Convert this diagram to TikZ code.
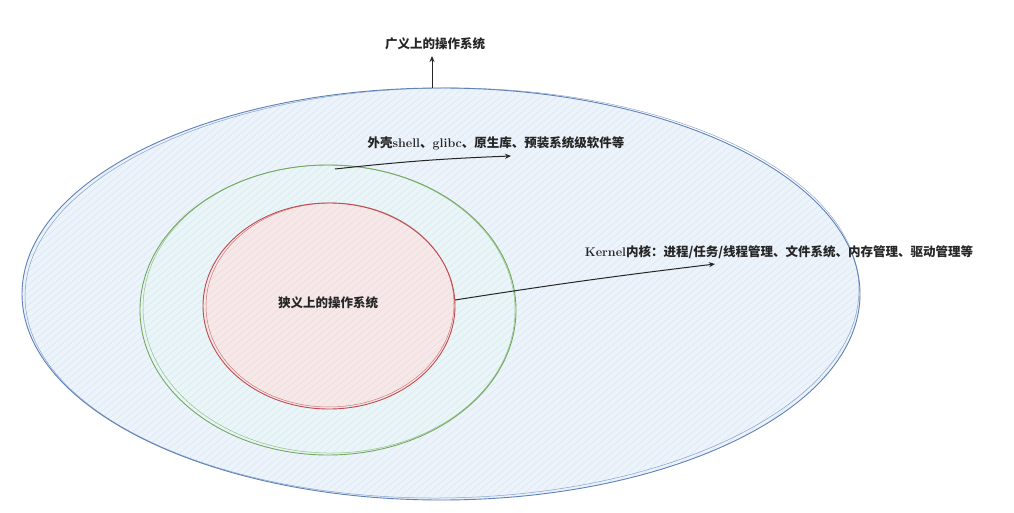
\documentclass[tikz,border=0pt]{standalone}
\usepackage{fontspec}
\newfontfamily\cjk{Noto Sans CJK SC}
\usetikzlibrary{arrows.meta}
\definecolor{bigline}{RGB}{95,130,185}
\definecolor{bigfill}{RGB}{236,243,250}
\definecolor{ringfill}{RGB}{234,245,247}
\definecolor{greenline}{RGB}{115,170,95}
\definecolor{redline}{RGB}{190,75,80}
\definecolor{redfill}{RGB}{246,232,232}
\definecolor{hatchblue}{RGB}{200,218,238}
\definecolor{hatchred}{RGB}{232,205,205}
\tikzset{
  lbl/.style={font=\fontsize{12.5}{14}\selectfont\bfseries, text=black!85, inner sep=1pt},
  arr/.style={draw=black!85, line width=1pt, -{Stealth[length=6pt,width=5pt]}},
}
\begin{document}
\begin{tikzpicture}[x=1pt,y=-1pt]
\useasboundingbox (0,0) rectangle (1014,513);
\fill[white] (0,0) rectangle (1014,513);
% big ellipse
\fill[bigfill] (441,294) ellipse [x radius=419pt, y radius=206pt];
\fill[ringfill] (328,310) ellipse [x radius=188pt, y radius=145pt];
\begin{scope}
  \clip (441,294) ellipse [x radius=419pt, y radius=206pt];
  \foreach \i in {-700,-692,...,1000}{
    \draw[hatchblue, line width=0.4pt, opacity=0.6] (\i,520) -- (\i+620,0);
  }
\end{scope}
\draw[bigline, line width=0.9pt] (441,294) ellipse [x radius=419pt, y radius=206pt];
\draw[bigline, line width=0.5pt, opacity=0.7, rotate around={0.6:(441,294)}] (442,293) ellipse [x radius=417pt, y radius=205pt];
% green circle
\draw[greenline, line width=0.9pt] (328,310) ellipse [x radius=188pt, y radius=145pt];
\draw[greenline, line width=0.5pt, opacity=0.7, rotate around={-1:(328,310)}] (329,309) ellipse [x radius=186pt, y radius=144pt];
% red ellipse
\fill[redfill] (329,306) ellipse [x radius=126pt, y radius=103pt];
\begin{scope}
  \clip (329,306) ellipse [x radius=126pt, y radius=103pt];
  \foreach \i in {-400,-392,...,700}{
    \draw[hatchred, line width=0.4pt, opacity=0.6] (\i,420) -- (\i+280,190);
  }
\end{scope}
\draw[redline, line width=0.9pt] (329,306) ellipse [x radius=126pt, y radius=103pt];
\draw[redline, line width=0.5pt, opacity=0.7, rotate around={1.5:(329,306)}] (330,305) ellipse [x radius=124pt, y radius=102pt];
% labels
\node[lbl] (broad) at (435,44) {\cjk 广义上的操作系统};
\node[lbl] (shell) at (496,143) {\cjk 外壳\rmfamily shell\cjk 、\rmfamily glibc\cjk 、原生库、预装系统级软件等};
\node[lbl] (kernel) at (779,252) {\rmfamily Kernel\cjk 内核：进程/任务/线程管理、文件系统、内存管理、驱动管理等};
\node[lbl] (narrow) at (328,303) {\cjk 狭义上的操作系统};
% arrows
\coordinate (a1) at (432,88);
\coordinate (a1e) at (432,56);
\coordinate (a2) at (335,169);
\coordinate (a2e) at (511,156);
\coordinate (a3) at (455,300);
\coordinate (a3e) at (715,264);
\draw[arr] (a1) -- (a1e);
\draw[arr] (a2) to[bend left=2] (a2e);
\draw[arr] (a3) to[bend left=1] (a3e);
\end{tikzpicture}
\end{document}
